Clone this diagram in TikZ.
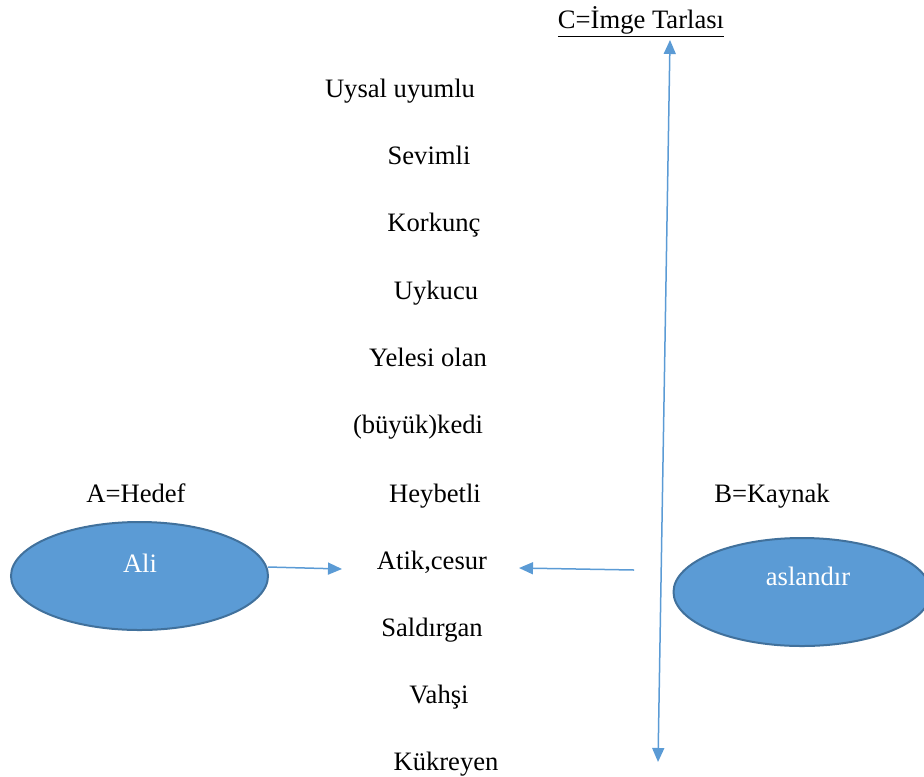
\documentclass[tikz,border=0pt]{standalone}
\usepackage{fontspec}
\setmainfont{Liberation Serif}
\usetikzlibrary{positioning, shapes.geometric, arrows.meta, calc}
\definecolor{offblue}{HTML}{5B9BD5}
\definecolor{offedge}{HTML}{41719C}

\begin{document}
\begin{tikzpicture}[x=0.5pt, y=-0.5pt,
          every node/.style={font=\fontsize{13.3}{16}\selectfont, inner sep=0pt},
          w/.style={anchor=base},
          oval/.style={ellipse, draw=offedge, line width=1pt, fill=offblue, minimum width=128.5pt, minimum height=54pt},
          wt/.style={text=white, anchor=base},
          arr/.style={-{Triangle[length=7pt, width=6pt]}, color=offblue, line width=0.75pt}]
        \useasboundingbox (0,0) rectangle (924,776);
        % image field
        \node[w] (c) at (641,28) {\underline{C=İmge Tarlası}};
        \node[w] (w1) at (400,97) {Uysal uyumlu};
        \node[w] (w2) at (429,164) {Sevimli};
        \node[w] (w3) at (434,231) {Korkunç};
        \node[w] (w4) at (436,299) {Uykucu};
        \node[w] (w5) at (428,366) {Yelesi olan};
        \node[w] (w6) at (418,433) {(büyük)kedi};
        \node[w] (w7) at (435,502) {Heybetli};
        \node[w] (w8) at (432,569) {Atik,cesur};
        \node[w] (w9) at (432,636) {Saldırgan};
        \node[w] (w10) at (439,703) {Vahşi};
        \node[w] (w11) at (446,770) {Kükreyen};
        % target and source
        \node[w] (a) at (136,502) {A=Hedef};
        \node[w] (b) at (772,502) {B=Kaynak};
        \node[oval] (ali) at (139.5,576) {};
        \node[wt] (alit) at (140,572) {Ali};
        \node[oval] (aslan) at (802,592) {};
        \node[wt] (aslant) at (808,585) {aslandır};
        % arrows
        \coordinate (aout) at (268,567);
        \coordinate (ain) at (342,569);
        \coordinate (bout) at (634,570);
        \coordinate (bin) at (519,568);
        \coordinate (ctop) at (670,40);
        \coordinate (cbot) at (658,762);
        \draw[arr] (aout) -- (ain);
        \draw[arr] (bout) -- (bin);
        \draw[arr, {Triangle[length=7pt, width=6pt]}-{Triangle[length=7pt, width=6pt]}] (ctop) -- (cbot);
      \end{tikzpicture}
\end{document}
